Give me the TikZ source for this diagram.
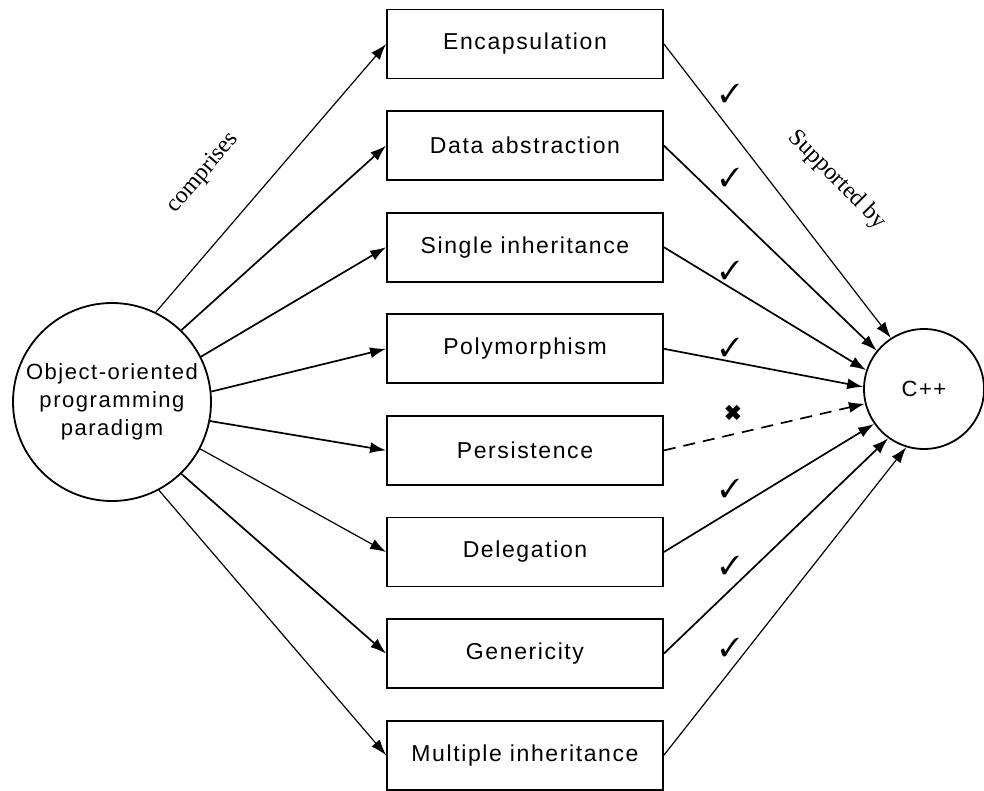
\documentclass[tikz,border=0pt]{standalone}
\usepackage{fontspec}
\usepackage{pifont}
\usetikzlibrary{arrows.meta}
\newfontfamily\labelfont{Liberation Sans}[LetterSpace=7]
\newfontfamily\notefont{Liberation Serif}

\begin{document}
\begin{tikzpicture}[x=1pt,y=-1pt,
  concept/.style={draw,line width=1.8pt,circle,inner sep=0pt,align=center,
    font=\labelfont\fontsize{22}{28}\selectfont},
  feature/.style={draw,line width=1.8pt,rectangle,minimum width=276pt,
    minimum height=69pt,inner sep=0pt,font=\labelfont\fontsize{23}{27}\selectfont},
  link/.style={line width=1.7pt,-{Latex[length=16pt,width=11pt]}},
  thinlink/.style={line width=1.2pt,-{Latex[length=16pt,width=11pt]}},
  tick/.style={font=\fontsize{26}{26}\selectfont},
  note/.style={font=\notefont\fontsize{24}{28}\selectfont}]

\useasboundingbox (0,0) rectangle (984,790);

% the paradigm and the language
\node[concept,minimum size=198pt] (oop) at (112,402)
  {Object-oriented\\programming\\paradigm};
\node[concept,minimum size=120pt] (cpp) at (924,389) {C++};

% the eight features
\node[feature] (enc)  at (525,44.0)  {Encapsulation};
\node[feature] (abs)  at (525,145.6) {Data abstraction};
\node[feature] (sinh) at (525,247.2) {Single inheritance};
\node[feature] (poly) at (525,348.8) {Polymorphism};
\node[feature] (pers) at (525,450.4) {Persistence};
\node[feature] (dele) at (525,552.0) {Delegation};
\node[feature] (gene) at (525,653.6) {Genericity};
\node[feature] (minh) at (525,755.2) {Multiple inheritance};

% "comprises" connectors
\draw[thinlink] (oop.64)  -- (enc.west);
\draw[link]     (oop.46)  -- (abs.west);
\draw[link]     (oop.27)  -- (sinh.west);
\draw[link]     (oop.6)   -- (poly.west);
\draw[link]     (oop.-11) -- (pers.west);
\draw[thinlink] (oop.-28) -- (dele.west);
\draw[link]     (oop.-46) -- (gene.west);
\draw[thinlink] (oop.-62) -- (minh.west);

% "supported by" connectors
\draw[thinlink] (enc.east)  -- (cpp.123);
\draw[link]     (abs.east)  -- (cpp.141);
\draw[link]     (sinh.east) -- (cpp.162);
\draw[link]     (poly.east) -- (cpp.178);
\draw[link,dash pattern=on 12pt off 8pt] (pers.east) -- (cpp.194);
\draw[link]     (dele.east) -- (cpp.215);
\draw[link]     (gene.east) -- (cpp.234);
\draw[thinlink] (minh.east) -- (cpp.253);

% support marks
\node[tick] (m1) at (730,93)  {\ding{51}};
\node[tick] (m2) at (730,177) {\ding{51}};
\node[tick] (m3) at (730,270) {\ding{51}};
\node[tick] (m4) at (730,347) {\ding{51}};
\node[tick,font=\fontsize{22}{22}\selectfont] (m5) at (733,413) {\ding{54}};
\node[tick] (m6) at (730,488) {\ding{51}};
\node[tick] (m7) at (730,565) {\ding{51}};
\node[tick] (m8) at (730,647) {\ding{51}};

% edge labels
\node[note,rotate=49]    (lc) at (203,173) {comprises};
\node[note,rotate=-45.5] (ls) at (837,180) {Supported by};
\end{tikzpicture}
\end{document}
